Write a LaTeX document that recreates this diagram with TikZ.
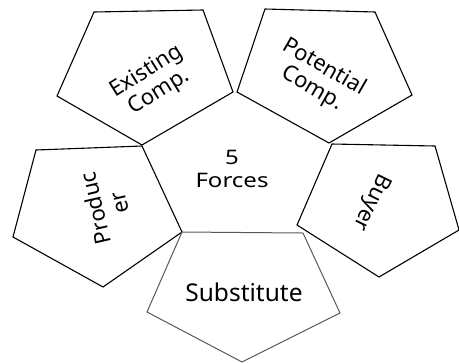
\documentclass[tikz,border=0pt]{standalone}
\usepackage{fontspec}
\setmainfont{Noto Sans}
\newfontfamily\widefont[FakeStretch=1.2]{Noto Sans}
\begin{document}
\begin{tikzpicture}[x=1bp,y=-1bp,
  penta/.style={draw=black,line width=1.1bp,line join=miter,fill=white},
  pentagray/.style={draw=black!65,line width=1bp,line join=miter,fill=white},
  lbl/.style={align=center,inner sep=0pt,font=\fontsize{22bp}{24bp}\selectfont},
]
\useasboundingbox (0,0) rectangle (459,362);
% Existing Comp.
\draw[penta] (94,12) -- (203,10) -- (233,92) -- (142,145) -- (57,96) -- cycle;
% Potential Comp.
\draw[penta] (265,9) -- (375,12) -- (412,95) -- (329,143) -- (237,92) -- cycle;
% Producer
\draw[penta] (36,150) -- (142,146) -- (182,232) -- (103,287) -- (13,237) -- cycle;
% Buyer
\draw[penta] (332,144) -- (435,146) -- (459,230) -- (379,277) -- (297,225) -- cycle;
% Substitute
\draw[pentagray] (182,232) -- (303,233) -- (340,313) -- (242,362) -- (147,312) -- cycle;

\node[lbl,rotate=32] (existing) at (153,82) {Existing\\Comp.};
\node[lbl,rotate=-30] (potential) at (318,78) {Potential\\Comp.};
\node[lbl,rotate=103] (producer) at (107,206) {Produc\\er};
\node[lbl,rotate=-116] (buyer) at (371,202) {Buyer};
\node[lbl,font=\fontsize{24.5bp}{28bp}\selectfont] (substitute) at (244,292) {Substitute};
\node[align=center,inner sep=0pt,font=\widefont\fontsize{20bp}{22.7bp}\selectfont] (forces) at (232,169) {5\\Forces};
\end{tikzpicture}
\end{document}
